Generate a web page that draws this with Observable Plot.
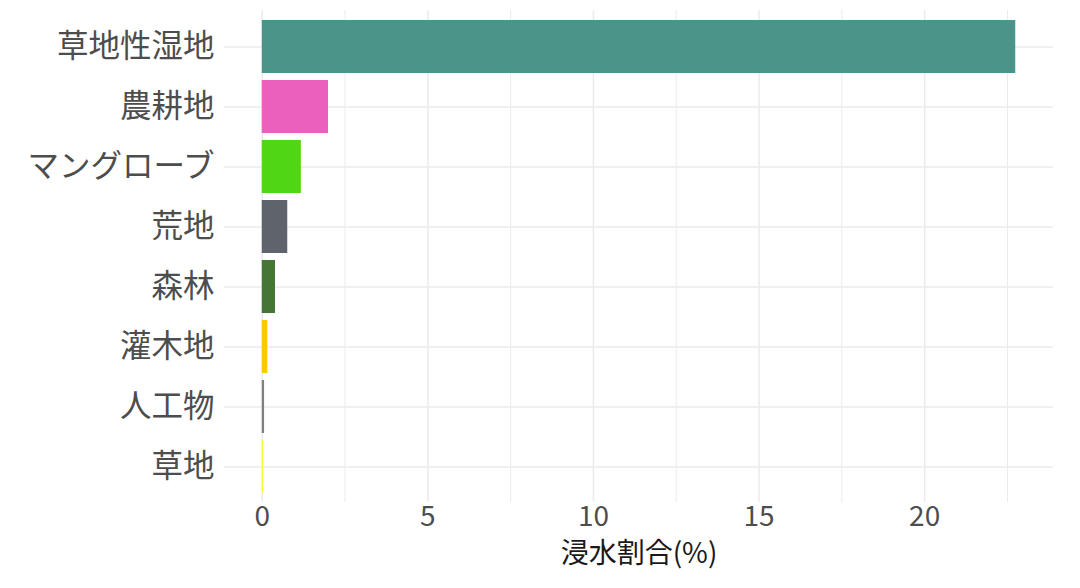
<!DOCTYPE html>
<html><head><meta charset="utf-8">
<script src="https://cdn.jsdelivr.net/npm/d3@7"></script>
<script src="https://cdn.jsdelivr.net/npm/@observablehq/plot@0.6"></script>
<style>
body{margin:0;background:#fff;}
svg{font-family:"Noto Sans CJK JP","Noto Sans",sans-serif;}
</style></head>
<body><div id="chart"></div>
<script>
const categories = ["草地性湿地","農耕地","マングローブ","荒地","森林","灌木地","人工物","草地"];
const values = [22.75, 2.0, 1.18, 0.77, 0.40, 0.17, 0.07, 0.03];
const colors = ["#4A9489","#EB5FBD","#50D614","#5F636B","#457635","#FFC800","#808080","#FFFF00"];
const xTicks = [0,5,10,15,20];
const minorTicks = [2.5,7.5,12.5,17.5,22.5];
const xLabel = "浸水割合(%)";

const data = categories.map((c,i)=>({cat:c, value:values[i], color:colors[i]}));

const chart = Plot.plot({
  width:1080, height:588,
  marginLeft:224, marginRight:27, marginTop:10, marginBottom:86,
  x:{domain:[-1.14, 23.89]},
  y:{domain:categories, paddingInner:0.12, paddingOuter:0.16},
  marks:[
    Plot.ruleX(minorTicks, {stroke:"#ebebeb", strokeWidth:1}),
    Plot.ruleX(xTicks, {stroke:"#ebebeb", strokeWidth:1.5}),
    Plot.ruleY(categories, {y:d=>d, stroke:"#ebebeb", strokeWidth:1.5}),
    Plot.barX(data, {x1:0, x2:"value", y:"cat", fill:"color"}),
    Plot.axisX({ticks:xTicks, tickSize:0, tickPadding:4, fontSize:28, fill:"#4d4d4d", label:null}),
    Plot.axisY({tickSize:0, tickPadding:10, fontSize:31.5, fill:"#4d4d4d", label:null}),
    Plot.text([xLabel], {text:d=>d, frameAnchor:"bottom", dy:60, fontSize:28, fill:"#1a1a1a"})
  ]
});
document.getElementById("chart").appendChild(chart);
</script></body></html>
